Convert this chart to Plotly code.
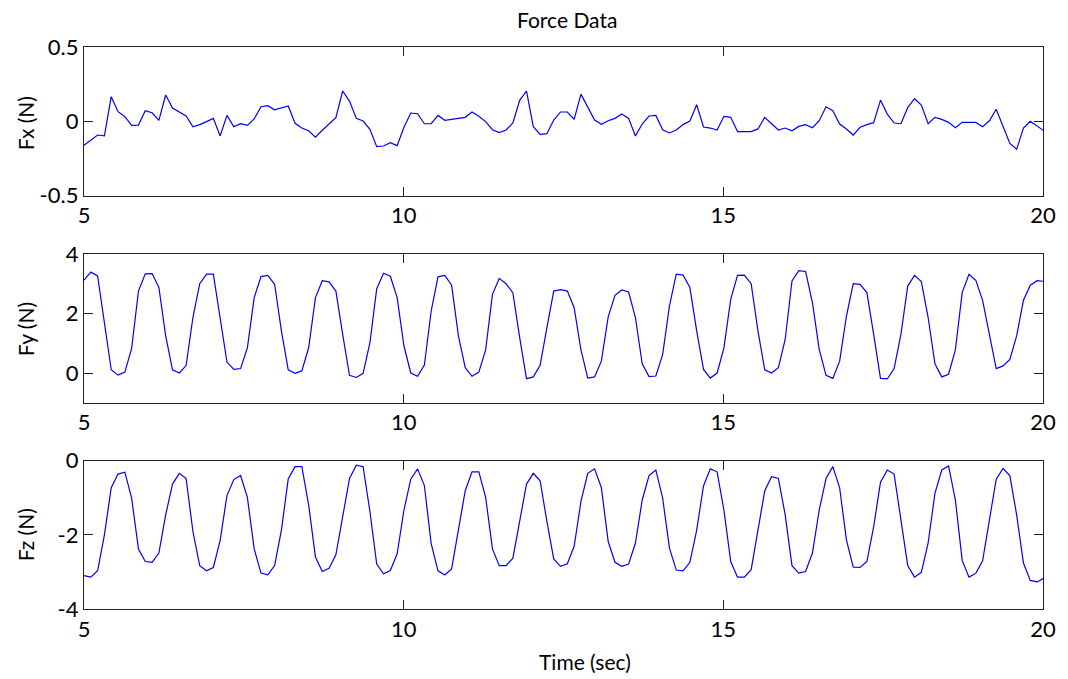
import numpy as np
import plotly.graph_objects as go

# time grid (sec)
t_start = 5.0
t_step = 0.10648
n_samples = 142

fx = [-0.161, -0.125, -0.092, -0.098, 0.166, 0.065, 0.031, -0.027, -0.025, 0.072,
      0.058, 0.007, 0.177, 0.089, 0.063, 0.036, -0.036, -0.022, -0.002, 0.020,
      -0.098, 0.040, -0.036, -0.016, -0.027, 0.016, 0.098, 0.105, 0.078, 0.089,
      0.103, -0.013, -0.045, -0.063, -0.107, -0.060, -0.018, 0.025, 0.204, 0.136,
      0.020, 0.002, -0.054, -0.170, -0.166, -0.143, -0.163, -0.040, 0.056, 0.051,
      -0.016, -0.016, 0.040, 0.007, 0.013, 0.020, 0.027, 0.063, 0.034, -0.002,
      -0.056, -0.076, -0.058, -0.011, 0.141, 0.204, -0.036, -0.087, -0.083, 0.009,
      0.063, 0.063, 0.013, 0.183, 0.098, 0.009, -0.020, 0.004, 0.020, 0.049,
      0.020, -0.098, -0.018, 0.036, 0.040, -0.056, -0.078, -0.058, -0.022, 0.002,
      0.112, -0.038, -0.045, -0.058, 0.034, 0.027, -0.069, -0.067, -0.069, -0.051,
      0.027, -0.016, -0.058, -0.045, -0.063, -0.034, -0.022, -0.043, 0.004, 0.098,
      0.072, -0.018, -0.051, -0.092, -0.040, -0.022, -0.009, 0.143, 0.049, -0.011,
      -0.016, 0.092, 0.152, 0.110, -0.016, 0.027, 0.013, -0.007, -0.043, -0.007,
      -0.007, -0.007, -0.036, 0.004, 0.081, -0.031, -0.148, -0.188, -0.045, 0.000,
      -0.031, -0.063]

fy = [3.13, 3.40, 3.27, 1.70, 0.11, -0.07, 0.03, 0.83, 2.76, 3.34,
      3.35, 2.88, 1.25, 0.11, 0.00, 0.25, 1.87, 3.01, 3.33, 3.33,
      1.87, 0.37, 0.12, 0.15, 0.85, 2.54, 3.25, 3.29, 2.99, 1.42,
      0.11, -0.01, 0.07, 0.85, 2.54, 3.11, 3.07, 2.76, 1.30, -0.08,
      -0.15, -0.01, 1.02, 2.84, 3.36, 3.26, 2.54, 0.91, 0.00, -0.11,
      0.27, 2.09, 3.24, 3.29, 2.96, 1.25, 0.18, -0.11, 0.03, 0.78,
      2.65, 3.19, 3.01, 2.70, 1.19, -0.19, -0.13, 0.26, 1.53, 2.76,
      2.81, 2.76, 2.20, 0.78, -0.17, -0.13, 0.40, 1.89, 2.62, 2.80,
      2.73, 1.87, 0.31, -0.12, -0.10, 0.62, 2.26, 3.33, 3.30, 2.88,
      1.42, 0.12, -0.17, 0.00, 0.85, 2.48, 3.29, 3.30, 3.01, 1.42,
      0.11, 0.00, 0.18, 1.13, 3.10, 3.45, 3.42, 2.37, 0.80, -0.08,
      -0.18, 0.40, 1.92, 3.01, 2.99, 2.71, 1.30, -0.18, -0.20, 0.15,
      1.30, 2.93, 3.29, 3.08, 1.87, 0.31, -0.13, -0.04, 0.78, 2.71,
      3.33, 3.12, 2.45, 1.30, 0.15, 0.24, 0.46, 1.25, 2.45, 2.96,
      3.11, 3.09]

fz = [-3.10, -3.14, -2.97, -2.00, -0.73, -0.36, -0.31, -1.01, -2.38, -2.72,
      -2.74, -2.49, -1.46, -0.63, -0.34, -0.48, -1.91, -2.83, -2.97, -2.88,
      -2.15, -0.94, -0.51, -0.40, -0.99, -2.38, -3.03, -3.08, -2.83, -1.87,
      -0.49, -0.16, -0.16, -1.19, -2.60, -2.99, -2.90, -2.54, -1.51, -0.48,
      -0.12, -0.16, -1.37, -2.79, -3.05, -2.96, -2.51, -1.33, -0.50, -0.22,
      -0.67, -2.24, -2.97, -3.08, -2.92, -1.87, -0.81, -0.30, -0.30, -0.99,
      -2.38, -2.83, -2.83, -2.63, -1.64, -0.63, -0.34, -0.54, -1.64, -2.65,
      -2.85, -2.78, -2.31, -1.10, -0.34, -0.22, -0.73, -2.18, -2.74, -2.85,
      -2.79, -2.22, -1.06, -0.40, -0.25, -1.01, -2.36, -2.95, -2.97, -2.74,
      -1.87, -0.68, -0.22, -0.30, -1.33, -2.72, -3.14, -3.14, -2.94, -1.87,
      -0.81, -0.43, -0.48, -1.46, -2.83, -3.03, -2.99, -2.49, -1.33, -0.48,
      -0.16, -0.73, -2.14, -2.87, -2.88, -2.72, -1.78, -0.58, -0.25, -0.36,
      -1.64, -2.83, -3.14, -3.01, -2.22, -0.88, -0.25, -0.14, -1.06, -2.69,
      -3.14, -3.04, -2.70, -1.64, -0.50, -0.21, -0.40, -1.46, -2.76, -3.23,
      -3.27, -3.17]

x_ticks = [5, 10, 15, 20]
fx_ticks = [-0.5, 0, 0.5]
fx_ticktext = ["-0.5", "0", "0.5"]
fy_ticks = [0, 2, 4]
fy_ticktext = ["0", "2", "4"]
fz_ticks = [-4, -2, 0]
fz_ticktext = ["-4", "-2", "0"]

title_text = "Force Data"
ylabels = ["Fx (N)", "Fy (N)", "Fz (N)"]
xlabel = "Time (sec)"

t = t_start + t_step * np.arange(n_samples)

FONT = "Lato, Open Sans, sans-serif"
W, H = 1068, 679
ML, MR, MT, MB = 84, 19, 47, 70
plot_h = H - MT - MB
plot_w = W - ML - MR

def py(pix):
    return (H - MB - pix) / plot_h

def px(pix):
    return (pix - ML) / plot_w

domains = [(py(195.7), 1.0), (py(402.7), py(254.3)), (0.0, py(460.7))]

fig = go.Figure()
series = [fx, fy, fz]
for k, ys in enumerate(series):
    fig.add_trace(go.Scatter(x=t, y=ys, mode="lines",
                             line=dict(color="#0000FF", width=1.2),
                             xaxis="x" if k == 0 else f"x{k+1}",
                             yaxis="y" if k == 0 else f"y{k+1}",
                             showlegend=False, hoverinfo="skip"))

axis_common = dict(showline=True, linecolor="#222222", linewidth=1.3, mirror="ticks",
                   ticks="inside", ticklen=9, tickcolor="#222222", tickwidth=1,
                   showgrid=False, zeroline=False,
                   tickfont=dict(family=FONT, size=22, color="black"))

layout = dict(width=W, height=H, margin=dict(l=ML, r=MR, t=MT, b=MB),
              paper_bgcolor="white", plot_bgcolor="white", showlegend=False)
yspecs = [((-0.5, 0.5), fx_ticks, fx_ticktext),
          ((-1, 4), fy_ticks, fy_ticktext),
          ((-4, 0), fz_ticks, fz_ticktext)]
for k in range(3):
    xname = "xaxis" if k == 0 else f"xaxis{k+1}"
    yname = "yaxis" if k == 0 else f"yaxis{k+1}"
    yref = "y" if k == 0 else f"y{k+1}"
    xref = "x" if k == 0 else f"x{k+1}"
    layout[xname] = dict(axis_common, range=[5, 20], tickvals=x_ticks,
                         ticktext=[str(v) for v in x_ticks], anchor=yref,
                         domain=[0, 1])
    rng, tv, tt = yspecs[k]
    layout[yname] = dict(axis_common, range=list(rng), tickvals=tv, ticktext=tt,
                         anchor=xref, domain=list(domains[k]))
fig.update_layout(**layout)

lab_font = dict(family=FONT, size=21, color="black")
common_ann = dict(xref="paper", yref="paper", showarrow=False, font=lab_font,
                  xanchor="center", yanchor="middle")
ann = [dict(common_ann, text=title_text, x=px(570), y=py(20))]
for lab, cy in zip(ylabels, [123, 329, 535]):
    ann.append(dict(common_ann, text=lab, x=px(25), y=py(cy), textangle=-90))
ann.append(dict(common_ann, text=xlabel, x=px(588), y=py(661)))
fig.update_layout(annotations=ann)

fig.write_html("out.html")
